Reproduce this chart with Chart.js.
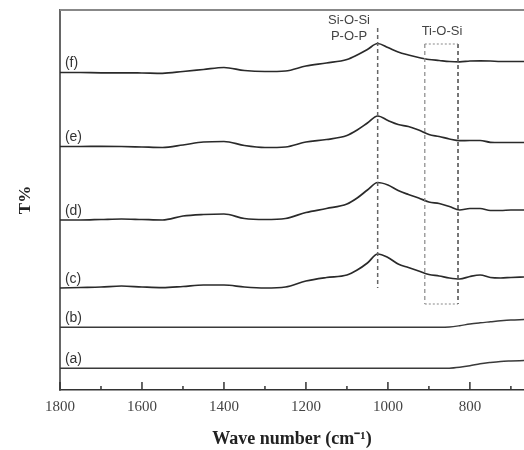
<!DOCTYPE html>
<html>
<head>
<meta charset="utf-8">
<script src="https://cdn.jsdelivr.net/npm/chart.js@4.4.1/dist/chart.umd.min.js"></script>
<style>
  html, body { margin: 0; padding: 0; background: #fff; }
  #wrap { width: 524px; height: 450px; }
</style>
</head>
<body>
<div id="wrap"><canvas id="ftir"></canvas></div>
<script>
// FTIR spectra (a)-(f), stacked with an arbitrary vertical offset.
// y is transmittance in arbitrary units, higher = further up the stack.

const wavenumbers = [1800, 1750, 1700, 1650, 1600, 1550, 1500, 1450, 1400, 1350, 1300, 1250,
  1200, 1150, 1100, 1075, 1050, 1025, 1000, 975, 950, 925, 900, 875, 850, 825, 800, 775, 750, 725, 700, 668];

const curveA = [21.7, 21.7, 21.7, 21.7, 21.7, 21.7, 21.7, 21.7, 21.7, 21.7, 21.7, 21.7,
  21.7, 21.7, 21.7, 21.7, 21.7, 21.7, 21.7, 21.7, 21.7, 21.7, 21.7, 21.7, 21.8, 22.7, 24.2, 26.2, 27.5, 28.5, 29, 29.5];
const curveB = [62.7, 62.7, 62.7, 62.7, 62.7, 62.7, 62.7, 62.7, 62.7, 62.7, 62.7, 62.7,
  62.7, 62.7, 62.7, 62.7, 62.7, 62.7, 62.7, 62.7, 62.7, 62.7, 62.7, 62.7, 63, 64.3, 66, 67.2, 68.2, 69.2, 70, 70.5];
const curveC = [102, 102.5, 103, 104, 103, 102.3, 103.5, 105, 105, 103, 102, 103,
  109, 112.5, 115, 120, 127, 136, 132.5, 126, 122.5, 119, 115.5, 114, 112, 111, 113.5, 115, 112.5, 112, 112.5, 113];
const curveD = [170, 170, 170.5, 171, 170.5, 170, 174, 175.5, 176, 171.5, 170.5, 171.5,
  177.5, 181.5, 186, 192, 200, 207.5, 205, 199.5, 195.5, 192, 188, 186.5, 183.5, 180, 181.5, 181.5, 179.5, 179.5, 180, 180];
const curveE = [243.5, 243.5, 243.7, 243.5, 243, 242.5, 245, 248, 248.5, 244.5, 242.5, 243,
  248, 250.5, 254.5, 260, 267, 274, 269.5, 265.5, 263.5, 260, 255.5, 253.5, 251, 249.3, 249.5, 249.5, 247.7, 247.5, 247.5, 247.5];
const curveF = [317.5, 317.5, 317.2, 317.2, 317, 316.7, 318.5, 320.5, 322.5, 319.5, 318.5, 319,
  324, 327, 330.5, 335, 340.5, 346.5, 342.5, 338, 335, 332.5, 330.5, 329.5, 328.5, 328.2, 329, 329.2, 329, 328.5, 328.5, 328.5];

const seriesLabels = ['(a)', '(b)', '(c)', '(d)', '(e)', '(f)'];
const seriesValues = [curveA, curveB, curveC, curveD, curveE, curveF];

// band markers, in data units
const siOSiLine = { x: 1025, from: 102, to: 362 };
const tiOSiBox = { left: 910, right: 829, bottom: 86, top: 346 };

const SANS = '"Liberation Sans", Arial, sans-serif';
const SERIF = '"Liberation Serif", "Times New Roman", serif';

function seg(ctx, x0, y0, x1, y1) {
  ctx.beginPath();
  ctx.moveTo(x0, y0);
  ctx.lineTo(x1, y1);
  ctx.stroke();
}

// top frame, inward tick marks, band markers and curve labels
const decorations = {
  id: 'decorations',
  afterDraw(chart) {
    const { ctx, chartArea: a, scales: { x, y } } = chart;
    ctx.save();

    ctx.strokeStyle = '#888';
    ctx.lineWidth = 2;
    seg(ctx, a.left, a.top, a.right, a.top);

    ctx.strokeStyle = '#333';
    ctx.lineWidth = 1.5;
    for (const t of x.ticks) {
      if (t.value % 100 !== 0) continue;
      const px = x.getPixelForValue(t.value);
      seg(ctx, px, a.bottom, px, a.bottom - (t.value % 200 === 0 ? 8 : 4));
    }

    // Si-O-Si / P-O-P peak line
    ctx.strokeStyle = '#666';
    ctx.lineWidth = 1.5;
    ctx.setLineDash([4, 3]);
    const px = x.getPixelForValue(siOSiLine.x);
    seg(ctx, px, y.getPixelForValue(siOSiLine.to), px, y.getPixelForValue(siOSiLine.from));

    // Ti-O-Si box
    const bl = x.getPixelForValue(tiOSiBox.left);
    const br = x.getPixelForValue(tiOSiBox.right);
    const bt = y.getPixelForValue(tiOSiBox.top);
    const bb = y.getPixelForValue(tiOSiBox.bottom);
    ctx.strokeStyle = '#888';
    ctx.lineWidth = 1.2;
    seg(ctx, bl, bt, bl, bb);
    ctx.strokeStyle = '#555';
    ctx.lineWidth = 1.6;
    seg(ctx, br, bt, br, bb);
    ctx.setLineDash([2, 2]);
    ctx.strokeStyle = '#888';
    ctx.lineWidth = 1;
    seg(ctx, bl, bt, br, bt);
    seg(ctx, bl, bb, br, bb);
    ctx.setLineDash([]);

    ctx.fillStyle = '#444';
    ctx.font = '13px ' + SANS;
    ctx.textAlign = 'center';
    ctx.textBaseline = 'middle';
    ctx.fillText('Si-O-Si', 349, 20);
    ctx.fillText('P-O-P', 349, 36);
    ctx.fillText('Ti-O-Si', 442, 31);

    ctx.fillStyle = '#333';
    ctx.font = '14px ' + SANS;
    ctx.textAlign = 'left';
    ctx.textBaseline = 'bottom';
    chart.data.datasets.forEach((ds) => {
      ctx.fillText(ds.label, x.getPixelForValue(1788), y.getPixelForValue(ds.data[0].y) - 2);
    });

    ctx.restore();
  },
};

new Chart(document.getElementById('ftir'), {
  type: 'line',
  data: {
    datasets: seriesLabels.map((label, i) => ({
      label,
      data: wavenumbers.map((w, j) => ({ x: w, y: seriesValues[i][j] })),
      borderColor: i < 2 ? '#3a3a3a' : '#2a2a2a',
      borderWidth: i < 2 ? 1.5 : 1.7,
      pointRadius: 0,
      cubicInterpolationMode: 'monotone',
      fill: false,
    })),
  },
  options: {
    responsive: true,
    maintainAspectRatio: false,
    animation: false,
    layout: { padding: { top: 10, right: 0, left: 0, bottom: 0 } },
    plugins: { legend: { display: false }, tooltip: { enabled: false } },
    scales: {
      x: {
        type: 'linear',
        reverse: true,
        min: 668,
        max: 1800,
        grid: { display: false },
        border: { display: true, color: '#333', width: 1.5 },
        ticks: {
          stepSize: 100,
          includeBounds: false,
          autoSkip: false,
          maxRotation: 0,
          padding: 0,
          color: '#444',
          font: { family: SERIF, size: 15 },
          callback: (v) => (v % 200 === 0 ? String(v) : ''),
        },
        title: {
          display: true,
          text: 'Wave number (cm\u207B\u00B9)',
          color: '#222',
          font: { family: SERIF, size: 18, weight: 'bold' },
          padding: { top: 4, bottom: 0 },
        },
        afterFit: (s) => { s.height = 60; },
      },
      y: {
        min: 0,
        max: 380,
        grid: { display: false },
        border: { display: true, color: '#666', width: 2 },
        ticks: { display: false },
        title: {
          display: true,
          text: 'T%',
          color: '#222',
          font: { family: SERIF, size: 17, weight: 'bold' },
          padding: { top: 15, bottom: 0 },
        },
        afterFit: (s) => { s.width = 60; },
      },
    },
  },
  plugins: [decorations],
});
</script>
</body>
</html>
